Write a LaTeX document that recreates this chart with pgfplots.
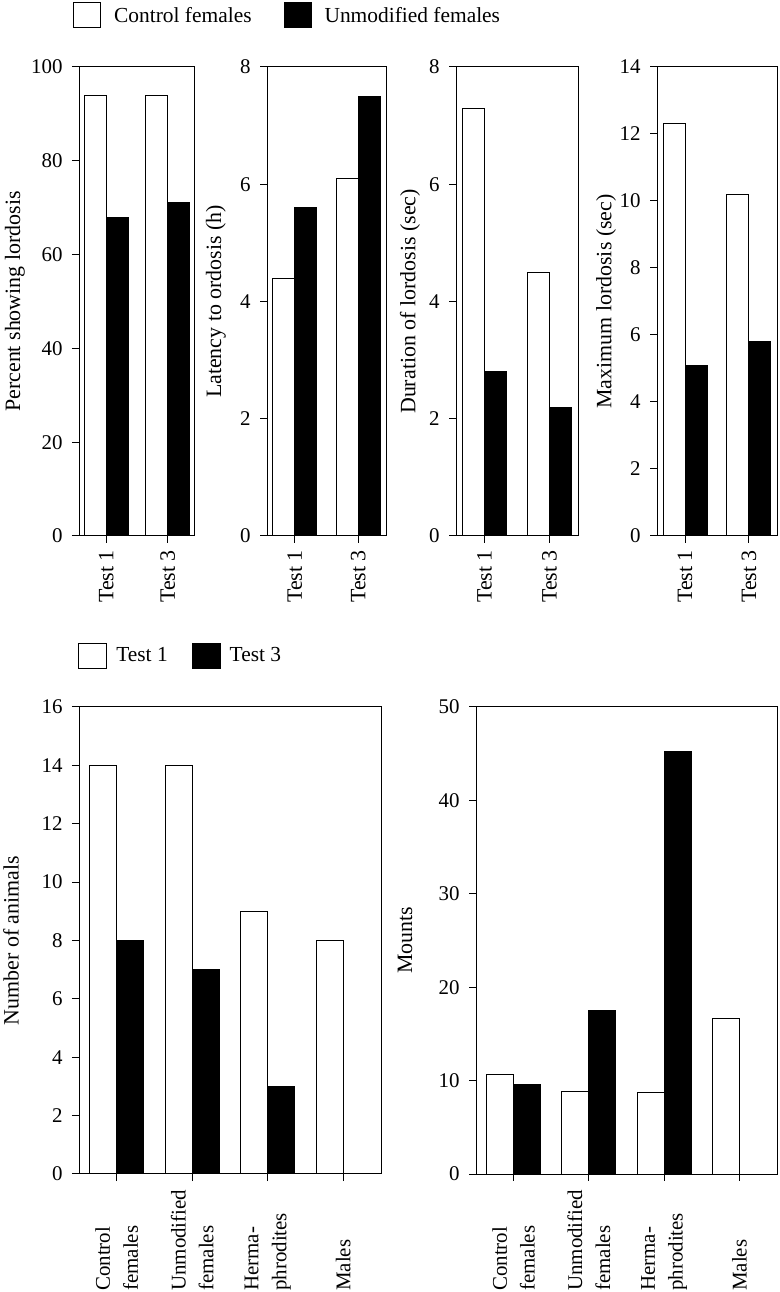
\documentclass[border=0pt]{standalone}
\usepackage{fontspec}
\setmainfont{Liberation Serif}
\usepackage{pgfplots}
\pgfplotsset{compat=1.18}

\pgfplotsset{
  myax/.style={
    scale only axis,
    anchor=south west,
    ybar,
    ymin=0,
    enlargelimits=false,
    axis line style={line width=1bp},
    every tick/.style={black, line width=1bp},
    major tick length=7bp,
    tick align=outside,
    xtick pos=bottom, ytick pos=left,
    /pgf/number format/assume math mode=true,
    yticklabel style={font=\fontsize{21}{25}\selectfont, xshift=-6bp},
    ylabel style={font=\fontsize{22}{26}\selectfont, anchor=center},
  },
  toprow/.style={
    myax,
    height=469bp,
    xmin=0.56, xmax=2.44,
    xtick={1,2},
    xticklabels={Test 1, Test 3},
    bar width=22bp,
    xticklabel style={rotate=90, anchor=east, inner sep=0pt, font=\fontsize{22}{26}\selectfont},
    xticklabel shift=7bp,
  },
  botrow/.style={
    myax,
    height=467bp,
    width=301bp,
    xmin=0.5, xmax=4.5,
    xtick={1,2,3,4},
    xticklabels={{Control\\females},{Unmodified\\females},{Herma-\\phrodites},{Males}},
    bar width=27bp,
    xticklabel style={rotate=90, anchor=west, align=left, inner sep=0pt, font=\fontsize{21}{28}\selectfont},
    xticklabel shift=110bp,
  },
  wbar/.style={fill=white, draw=black, line width=1bp},
  bbar/.style={fill=black, draw=black, line width=1bp},
}

\begin{document}
\begin{tikzpicture}
\useasboundingbox (0,0) rectangle (780bp,1292bp);

% ---------- Top row ----------
\begin{axis}[toprow, at={(79bp,756bp)}, width=116bp,
  ymax=100, ytick={0,20,...,100},
  ylabel={Percent showing lordosis},
  ylabel style={at={(axis description cs:-0.552,0.5)}},
  legend columns=2,
  legend style={at={(axis description cs:-0.052,1.110)}, anchor=west,
    draw=none, fill=none, inner sep=0pt,
    nodes={inner sep=0pt},
    font=\fontsize{21.5}{25}\selectfont,
    /tikz/every odd column/.append style={column sep=13bp},
    /tikz/every even column/.append style={column sep=32bp}},
  legend image code/.code={\draw[#1] (0bp,-12.5bp) rectangle (27bp,12.5bp);},
]
\addplot[wbar, bar shift=-11bp] coordinates {(1,94) (2,94)};
\addplot[bbar, bar shift=11bp] coordinates {(1,68) (2,71)};
\legend{Control females, Unmodified females}
\end{axis}

\begin{axis}[toprow, at={(267bp,756bp)}, width=119bp,
  ymax=8, ytick={0,2,...,8},
  ylabel={Latency to ordosis (h)},
  ylabel style={at={(axis description cs:-0.429,0.5)}},
]
\addplot[wbar, bar shift=-11bp] coordinates {(1,4.4) (2,6.1)};
\addplot[bbar, bar shift=11bp] coordinates {(1,5.6) (2,7.5)};
\end{axis}

\begin{axis}[toprow, at={(456bp,756bp)}, width=122bp,
  ymax=8, ytick={0,2,...,8},
  ylabel={Duration of lordosis (sec)},
  ylabel style={at={(axis description cs:-0.377,0.5)}},
]
\addplot[wbar, bar shift=-11bp] coordinates {(1,7.3) (2,4.5)};
\addplot[bbar, bar shift=11bp] coordinates {(1,2.8) (2,2.2)};
\end{axis}

\begin{axis}[toprow, at={(657bp,756bp)}, width=120bp,
  ymax=14, ytick={0,2,...,14},
  ylabel={Maximum lordosis (sec)},
  ylabel style={at={(axis description cs:-0.425,0.5)}},
]
\addplot[wbar, bar shift=-11bp] coordinates {(1,12.3) (2,10.2)};
\addplot[bbar, bar shift=11bp] coordinates {(1,5.1) (2,5.8)};
\end{axis}

% ---------- Bottom row ----------
\begin{axis}[botrow, at={(79bp,118bp)}, width=302bp,
  ymax=16, ytick={0,2,...,16},
  ylabel={Number of animals},
  ylabel style={at={(axis description cs:-0.225,0.5)}},
  legend columns=2,
  legend style={at={(axis description cs:-0.003,1.110)}, anchor=west,
    draw=none, fill=none, inner sep=0pt,
    nodes={inner sep=0pt},
    font=\fontsize{21.5}{25}\selectfont,
    /tikz/every odd column/.append style={column sep=9bp},
    /tikz/every even column/.append style={column sep=24bp}},
  legend image code/.code={\draw[#1] (0bp,-12.5bp) rectangle (28bp,12.5bp);},
]
\addplot[wbar, bar shift=-13.5bp] coordinates {(1,14) (2,14) (3,9) (4,8)};
\addplot[bbar, bar shift=13.5bp] coordinates {(1,8) (2,7) (3,3)};
\legend{Test 1, Test 3}
\end{axis}

\begin{axis}[botrow, at={(476bp,118bp)}, width=301bp,
  ymax=50, ytick={0,10,...,50},
  ylabel={Mounts},
  ylabel style={at={(axis description cs:-0.236,0.5)}},
]
\addplot[wbar, bar shift=-13.5bp] coordinates {(1,10.7) (2,8.8) (3,8.7) (4,16.7)};
\addplot[bbar, bar shift=13.5bp] coordinates {(1,9.6) (2,17.5) (3,45.2)};
\end{axis}
\end{tikzpicture}
\end{document}
